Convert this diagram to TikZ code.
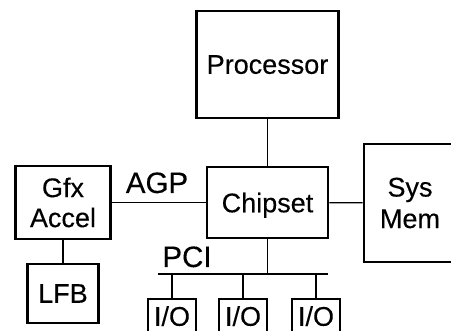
\documentclass[tikz,border=0pt]{standalone}
\usepackage{fontspec}
\setmainfont{Liberation Sans}
\newfontfamily\boxfont[FakeBold=0.25]{Liberation Sans}
\begin{document}
\begin{tikzpicture}[x=1pt,y=-1pt,
  box/.style={draw=black,line width=2.6pt,fill=white,inner sep=0pt,align=center,
    font=\boxfont\fontsize{27}{30}\selectfont},
  one/.style={text depth=0pt},
  iobox/.style={box,minimum width=48pt,minimum height=34pt,text depth=0pt},
  wire/.style={line width=1.2pt},
  lbl/.style={inner sep=0pt,anchor=base,font=\boxfont\fontsize{29.5}{30}\selectfont}]
\useasboundingbox (0,0) rectangle (451,331);
\clip (0,0) rectangle (451,331);
\node[box,one,minimum width=142pt,minimum height=107pt] (proc) at (267.5,64.5) {Processor};
\node[box,one,minimum width=121pt,minimum height=71pt] (chip) at (267.5,202.5) {Chipset};
\node[box,minimum width=92pt,minimum height=118pt,
  font=\boxfont\fontsize{27}{31.5}\selectfont] (mem) at (410,203) {Sys\\Mem};
\node[box,minimum width=95pt,minimum height=73pt] (gfx) at (63,202.5) {Gfx\\Accel};
\node[box,one,minimum width=71pt,minimum height=59pt] (lfb) at (63,293.5) {LFB};
\node[iobox] (io1) at (172,316) {I/O};
\node[iobox] (io2) at (243,316) {I/O};
\node[iobox] (io3) at (316,316) {I/O};
\node[lbl] (agp) at (157,193) {AGP};
\node[lbl] (pci) at (187,267) {PCI};
\coordinate (busL) at (158,274);
\coordinate (busR) at (328,274);
\draw[wire] (proc) -- (chip);
\draw[wire] (gfx) -- (chip);
\draw[wire] (chip) -- (mem);
\draw[wire] (gfx) -- (lfb);
\draw[wire] (busL) -- (busR);
\draw[wire] (chip.south) -- (chip.south |- busL);
\draw[wire] (io1.north) -- (io1.north |- busL);
\draw[wire] (io2.north) -- (io2.north |- busL);
\draw[wire] (io3.north) -- (io3.north |- busL);
\end{tikzpicture}
\end{document}
